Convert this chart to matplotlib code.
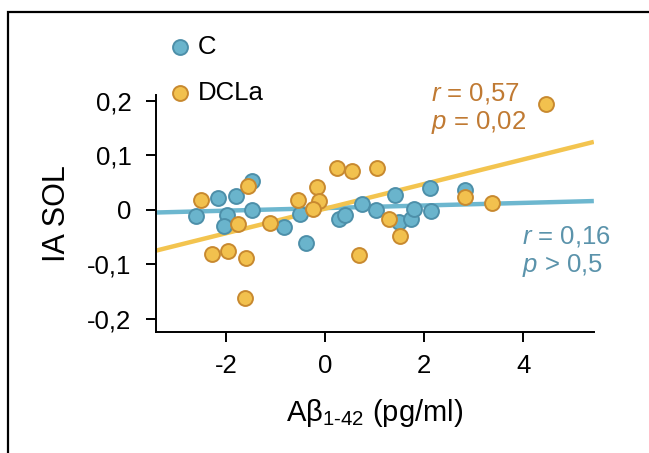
import matplotlib
matplotlib.use("Agg")
import matplotlib.pyplot as plt
from matplotlib.patches import Rectangle
import numpy as np

plt.rcParams['font.family'] = ['Liberation Sans', 'DejaVu Sans']
plt.rcParams['mathtext.fontset'] = 'custom'
plt.rcParams['mathtext.rm'] = 'Liberation Sans'
plt.rcParams['mathtext.it'] = 'Liberation Sans:italic'
plt.rcParams['axes.unicode_minus'] = False

# group C
c_x = [-2.61, -2.17, -1.99, -2.05, -1.80, -1.48, -1.48, -0.83, -0.51, -0.39, 0.27,
       0.40, 0.75, 1.02, 1.40, 1.49, 1.74, 1.80, 2.14, 2.12, 2.83]
c_y = [-0.011, 0.021, -0.010, -0.030, 0.026, 0.053, 0.000, -0.031, -0.007, -0.060, -0.017,
       -0.010, 0.010, 0.000, 0.027, -0.023, -0.016, 0.001, -0.002, 0.039, 0.036]
# group DCLa
d_x = [-2.51, -2.30, -1.97, -1.60, -1.62, -1.76, -1.56, -1.11, -0.55, -0.17, -0.12,
       -0.25, 0.24, 0.53, 1.05, 0.69, 1.28, 1.50, 2.82, 3.37, 4.46]
d_y = [0.018, -0.081, -0.076, -0.088, -0.161, -0.026, 0.044, -0.025, 0.018, 0.042, 0.016,
       0.002, 0.076, 0.071, 0.077, -0.082, -0.016, -0.048, 0.023, 0.012, 0.194]

# regression lines (slope, intercept)
c_fit = [0.00237, 0.0031]
d_fit = [0.0225, 0.0022]

x_ticks = [-2, 0, 2, 4]
y_ticks = [-0.2, -0.1, 0, 0.1, 0.2]
y_labels = ['-0,2', '-0,1', '0', '0,1', '0,2']

blue_face, blue_edge, blue_line, blue_txt = '#6ab4cc', '#4d8fa9', '#6db7cf', '#5b93ab'
org_face, org_edge, org_line, org_txt = '#f2c14e', '#c8892f', '#f3c44f', '#c07a33'

fig = plt.figure(figsize=(6.49, 4.53), dpi=100)
ax = fig.add_axes([0.240, 0.267, 0.675, 0.523])

xlim = (-3.43, 5.43)
xs = np.array(xlim)
ax.plot(xs, c_fit[0] * xs + c_fit[1], color=blue_line, lw=3.2, zorder=1, solid_capstyle='butt')
ax.plot(xs, d_fit[0] * xs + d_fit[1], color=org_line, lw=3.2, zorder=1, solid_capstyle='butt')

ax.scatter(c_x, c_y, s=115, color=blue_face, edgecolor=blue_edge, linewidth=1.4, zorder=3, label='C')
ax.scatter(d_x, d_y, s=115, color=org_face, edgecolor=org_edge, linewidth=1.4, zorder=3, label='DCLa')

ax.set_xlim(*xlim)
ax.set_ylim(-0.224, 0.21)
ax.set_xticks(x_ticks)
ax.set_yticks(y_ticks)
ax.set_yticklabels(y_labels)
ax.tick_params(labelsize=18.5, length=7.5, width=1.4)
ax.tick_params(axis='x', pad=8)
ax.tick_params(axis='y', pad=10)
for s in ['top', 'right']:
    ax.spines[s].set_visible(False)
for s in ['left', 'bottom']:
    ax.spines[s].set_linewidth(1.4)

ax.set_xlabel(r'A$\mathregular{\beta_{1\text{-}42}}$ (pg/ml)', fontsize=21, labelpad=14)
ax.set_ylabel('IA SOL', fontsize=22, labelpad=11)

ax.text(0.628, 0.945, '$\\it{r}$ = 0,57\n$\\it{p}$ = 0,02', transform=ax.transAxes,
        color=org_txt, fontsize=18.5, va='center', ha='left', linespacing=1.15)
ax.text(0.836, 0.338, '$\\it{r}$ = 0,16\n$\\it{p}$ > 0,5', transform=ax.transAxes,
        color=blue_txt, fontsize=18.5, va='center', ha='left', linespacing=1.15)

ax.legend(loc='upper left', bbox_to_anchor=(0.025, 1.255), frameon=False, fontsize=18.5,
          labelspacing=0.85, handlelength=1.0, handletextpad=0.2, borderpad=0, borderaxespad=0)

fig.patches.append(Rectangle((7.5 / 649, -0.5), 2, 1.5 - 11.5 / 453, transform=fig.transFigure,
                             fill=False, lw=1.6, edgecolor='black'))

fig.savefig('out.png', dpi=100)
